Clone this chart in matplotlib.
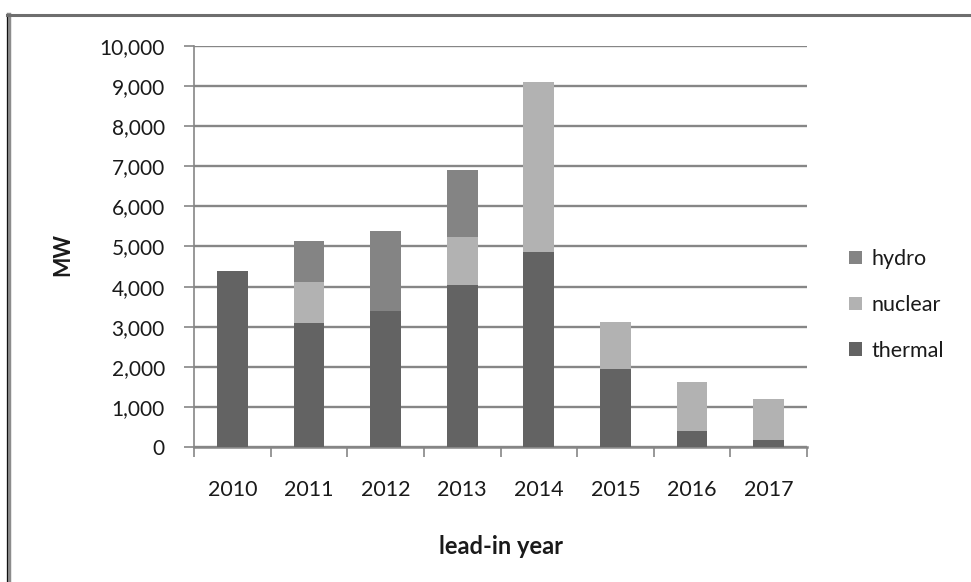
import matplotlib
matplotlib.use("Agg")
import matplotlib.pyplot as plt
from matplotlib.lines import Line2D
from matplotlib.patches import Patch
from matplotlib.ticker import FuncFormatter, FixedLocator
import numpy as np

plt.rcParams['font.family'] = ['Lato', 'DejaVu Sans']

years = ['2010', '2011', '2012', '2013', '2014', '2015', '2016', '2017']
thermal = [4400, 3100, 3380, 4030, 4870, 1950, 400, 180]
nuclear = [0, 1020, 0, 1210, 4230, 1170, 1230, 1020]
hydro = [0, 1020, 2010, 1660, 0, 0, 0, 0]

series = [('thermal', thermal, '#636363'),
          ('nuclear', nuclear, '#b2b2b2'),
          ('hydro', hydro, '#848484')]

text_c = '#1a1a1a'
grid_c = '#868686'

fig = plt.figure(figsize=(9.71, 5.82), dpi=100)
ax = fig.add_axes([194 / 971, 1 - 447 / 582, (807 - 194) / 971, (447 - 46) / 582])

x = np.arange(len(years))
bottom = np.zeros(len(years))
for name, vals, color in series:
    ax.bar(x, vals, width=0.4, bottom=bottom, color=color, label=name, zorder=3)
    bottom += np.array(vals)

ax.set_xlim(-0.5, len(years) - 0.5)
ax.set_ylim(0, 10000)
ax.set_yticks(np.arange(0, 10001, 1000))
ax.yaxis.set_major_formatter(FuncFormatter(lambda v, p: f'{int(v):,}'))
ax.grid(axis='y', color=grid_c, linewidth=1.7, zorder=0)

# category boundaries get the tick marks, centers get the labels
ax.xaxis.set_major_locator(FixedLocator(np.arange(-0.5, len(years), 1.0)))
ax.set_xticklabels([''] * (len(years) + 1))
ax.set_xticks(x, minor=True)
ax.set_xticklabels(years, minor=True)
ax.tick_params(axis='x', which='major', length=7, width=1.2, color=grid_c)
ax.tick_params(axis='x', which='minor', length=0, pad=24, labelsize=15.5, labelcolor=text_c)
ax.tick_params(axis='y', length=7, width=1.2, color=grid_c, pad=14, labelsize=15,
               labelcolor=text_c)

for s in ['top', 'right']:
    ax.spines[s].set_visible(False)
ax.spines['left'].set_color(grid_c)
ax.spines['left'].set_linewidth(1.2)
ax.spines['bottom'].set_color(grid_c)
ax.spines['bottom'].set_linewidth(1.8)

fig.text(501 / 971, 1 - 546 / 582, 'lead-in year', fontsize=17, fontweight='bold',
         ha='center', va='center', color=text_c)
fig.text(63 / 971, 1 - 255 / 582, 'MW', rotation=90, fontsize=15.5, fontweight='bold',
         ha='center', va='center', color=text_c)

handles = [Patch(facecolor=c, edgecolor='none', label=n) for n, _, c in reversed(series)]
fig.legend(handles=handles, loc='center left', bbox_to_anchor=(830 / 971, 1 - 305 / 582),
           frameon=False, fontsize=15.5, handlelength=0.6, handleheight=0.6,
           handletextpad=0.42, labelspacing=1.2, labelcolor=text_c)

# outer chart frame (left and top edges)
fig.add_artist(Line2D([9 / 971, 9 / 971], [0, 1 - 15 / 582], transform=fig.transFigure,
                      color='#8c8c8c', linewidth=3.2))
fig.add_artist(Line2D([7.3 / 971, 7.3 / 971], [0, 1 - 14 / 582], transform=fig.transFigure,
                      color='#111111', linewidth=0.8))
fig.add_artist(Line2D([7 / 971, 1], [1 - 15 / 582, 1 - 15 / 582], transform=fig.transFigure,
                      color='#6e6e6e', linewidth=2.2))

fig.savefig('out.png', dpi=100)
